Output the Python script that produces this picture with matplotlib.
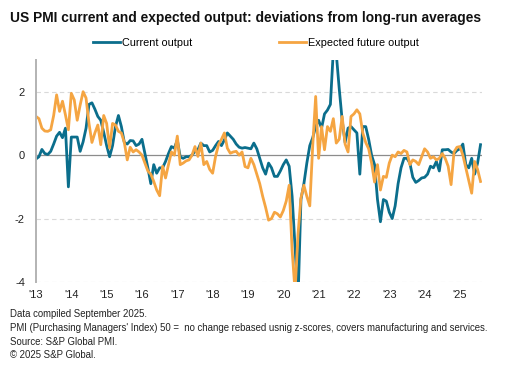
import numpy as np
from matplotlib import pyplot as plt

plt.rcParams['font.family'] = ['Liberation Sans', 'DejaVu Sans']

# monthly, Jan 2013 .. Aug 2025
current_output = [
    -0.12, -0.05, 0.18, 0.05, 0.02, 0.12, 0.35, 0.6, 0.72, 0.55, 0.85, -1.0,
    0.57, 0.57, 0.57, 0.12, 0.42, 0.85, 1.6, 1.65, 1.45, 1.22, 1.1, 0.72,
    0.3, -0.05, 0.3, 0.9, 1.25, 0.9, 0.4, 0.35, 0.46, 0.45, 0.3, 0.35,
    0.5, 0.05, -0.4, -0.9, -0.3, -0.57, -0.4, -0.4, -0.2, 0.05, 0.27, 0.22,
    0.48, -0.06, -0.1, -0.05, -0.05, 0.0, 0.12, 0.17, 0.38, 0.3, 0.3, 0.1,
    0.15, 0.3, 0.43, 0.3, 0.48, 0.7, 0.6, 0.5, 0.35, 0.25, 0.22, 0.24,
    0.22, 0.2, 0.38, 0.2, -0.1, -0.4, -0.6, -0.25, -0.4, -0.67, -0.67, -0.5,
    -0.3, -0.15, -0.35, -1.3, -2.9, -4.6, -1.4, -0.9, -0.25, 0.3, 0.55, 0.9,
    1.1, 0.85, 1.3, 1.42, 1.6, 3.3, 3.2, 2.1, 1.1, 0.4, 0.85, 0.9,
    0.8, 0.7, -0.6, 0.9, 0.9, 0.5, 0.0, -0.3, -1.4, -2.1, -1.4, -1.45,
    -1.8, -2.0, -1.6, -0.9, -0.4, -0.1, -0.1, -0.25, -0.7, -0.86, -0.8, -0.72,
    -0.7, -0.6, -0.35, -0.4, -0.2, -0.5, 0.17, 0.17, 0.18, 0.1, 0.05, 0.15,
    0.2, 0.35, -0.3, -0.4, -0.1, -0.6, -0.25, 0.33,
]
expected_output = [
    1.22, 1.15, 0.85, 0.76, 0.75, 0.8, 1.25, 1.9, 1.38, 1.7, 1.27, 0.8,
    1.95, 1.74, 1.1, 1.58, 2.0, 1.8, 1.0, 0.4, 0.7, 0.95, 0.33, 1.25,
    1.0, 0.22, 1.0, 0.95, 0.75, 0.7, 0.4, -0.15, 0.25, 0.1, 0.17, 0.1,
    0.0, -0.25, -0.5, -0.6, -0.83, -1.1, -1.28, -0.35, -0.72, -0.3, 0.1, 0.0,
    0.6, -0.3, -0.25, -0.18, -0.15, 0.0, 0.27, -0.04, 0.38, -0.3, -0.2, -0.45,
    -0.57, -0.04, 0.33, 0.5, 0.7, 0.22, 0.06, 0.1, 0.12, 0.0, 0.1, -0.36,
    -0.4, -0.1, -0.3, -0.6, -0.9, -1.3, -1.65, -2.05, -2.0, -1.8, -1.85, -1.95,
    -1.75, -1.45, -0.95, -3.0, -4.3, -2.5, -1.35, -0.95, -1.3, -1.6, 0.3, 1.85,
    -0.1, 0.9, 0.17, 0.9, 0.75, 1.15, 0.38, 0.5, 1.22, 0.35, 0.1, 1.22,
    1.3, 1.43, 1.3, 0.7, 0.4, 0.2, -0.25, -0.85, -0.3, -1.1, -0.67, -0.7,
    -0.25, 0.0, -0.05, 0.1, 0.05, 0.15, 0.1, -0.3, -0.15, -0.2, -0.3, -0.05,
    0.2, 0.1, -0.1, -0.05, -0.15, -0.1, 0.05, -0.1, -0.35, -0.93, 0.1, 0.25,
    0.27, 0.0, -0.4, -0.8, -1.2, -0.2, -0.45, -0.83,
]
year_labels = ["'13", "'14", "'15", "'16", "'17", "'18", "'19",
               "'20", "'21", "'22", "'23", "'24", "'25"]
footnotes = [
    "Data compiled September 2025.",
    "PMI (Purchasing Managers' Index) 50 =  no change rebased usnig z-scores, covers manufacturing and services.",
    "Source: S&P Global PMI.",
    "\u00a9 2025 S&P Global.",
]

months = np.arange(len(current_output))

fig = plt.figure(figsize=(5.2, 3.88), dpi=100)
ax = fig.add_axes([36/520, 1-282/388, 446/520, 222/388])

ax.plot(months, current_output, color="#0b6e8c", lw=2.0, label="Current output")
ax.plot(months, expected_output, color="#f5a542", lw=2.0, label="Expected future output")

ax.set_ylim(-4, 3)
ax.set_xlim(0, 151.5)
ax.set_yticks([2, 0, -2, -4])
ax.set_yticklabels(["2", "0", "-2", "-4"])
ax.set_xticks(np.arange(len(year_labels)) * 12)
ax.set_xticklabels(year_labels)
ax.tick_params(length=0, labelsize=8, colors="#222222")
ax.tick_params(axis="y", pad=8)
ax.tick_params(axis="x", pad=6)

for v in [2, -2, -4]:
    ax.axhline(v, color="#d9d9d9", lw=0.8, ls=(0, (4, 3)), zorder=0)
ax.axhline(0, color="#8c8c8c", lw=0.9, zorder=1)

for s in ["top", "right", "bottom"]:
    ax.spines[s].set_visible(False)
ax.spines["left"].set_color("#b3b3b3")
ax.spines["left"].set_linewidth(1.4)

fig.text(10/520, 1-18/388, "US PMI current and expected output: deviations from long-run averages",
         fontsize=9.9, fontweight="bold", va="center", ha="left", color="#111111")

leg = fig.legend(loc="center left", bbox_to_anchor=(83/520, 1-43/388), ncol=2, frameon=False,
                 fontsize=7.8, handlelength=2.5, handletextpad=0.2, columnspacing=8.0)

for i, t in enumerate(footnotes):
    fig.text(10/520, 1-(314 + 13.8*i)/388, t, fontsize=6.9, va="center", ha="left", color="#222222")

plt.savefig("out.png")
